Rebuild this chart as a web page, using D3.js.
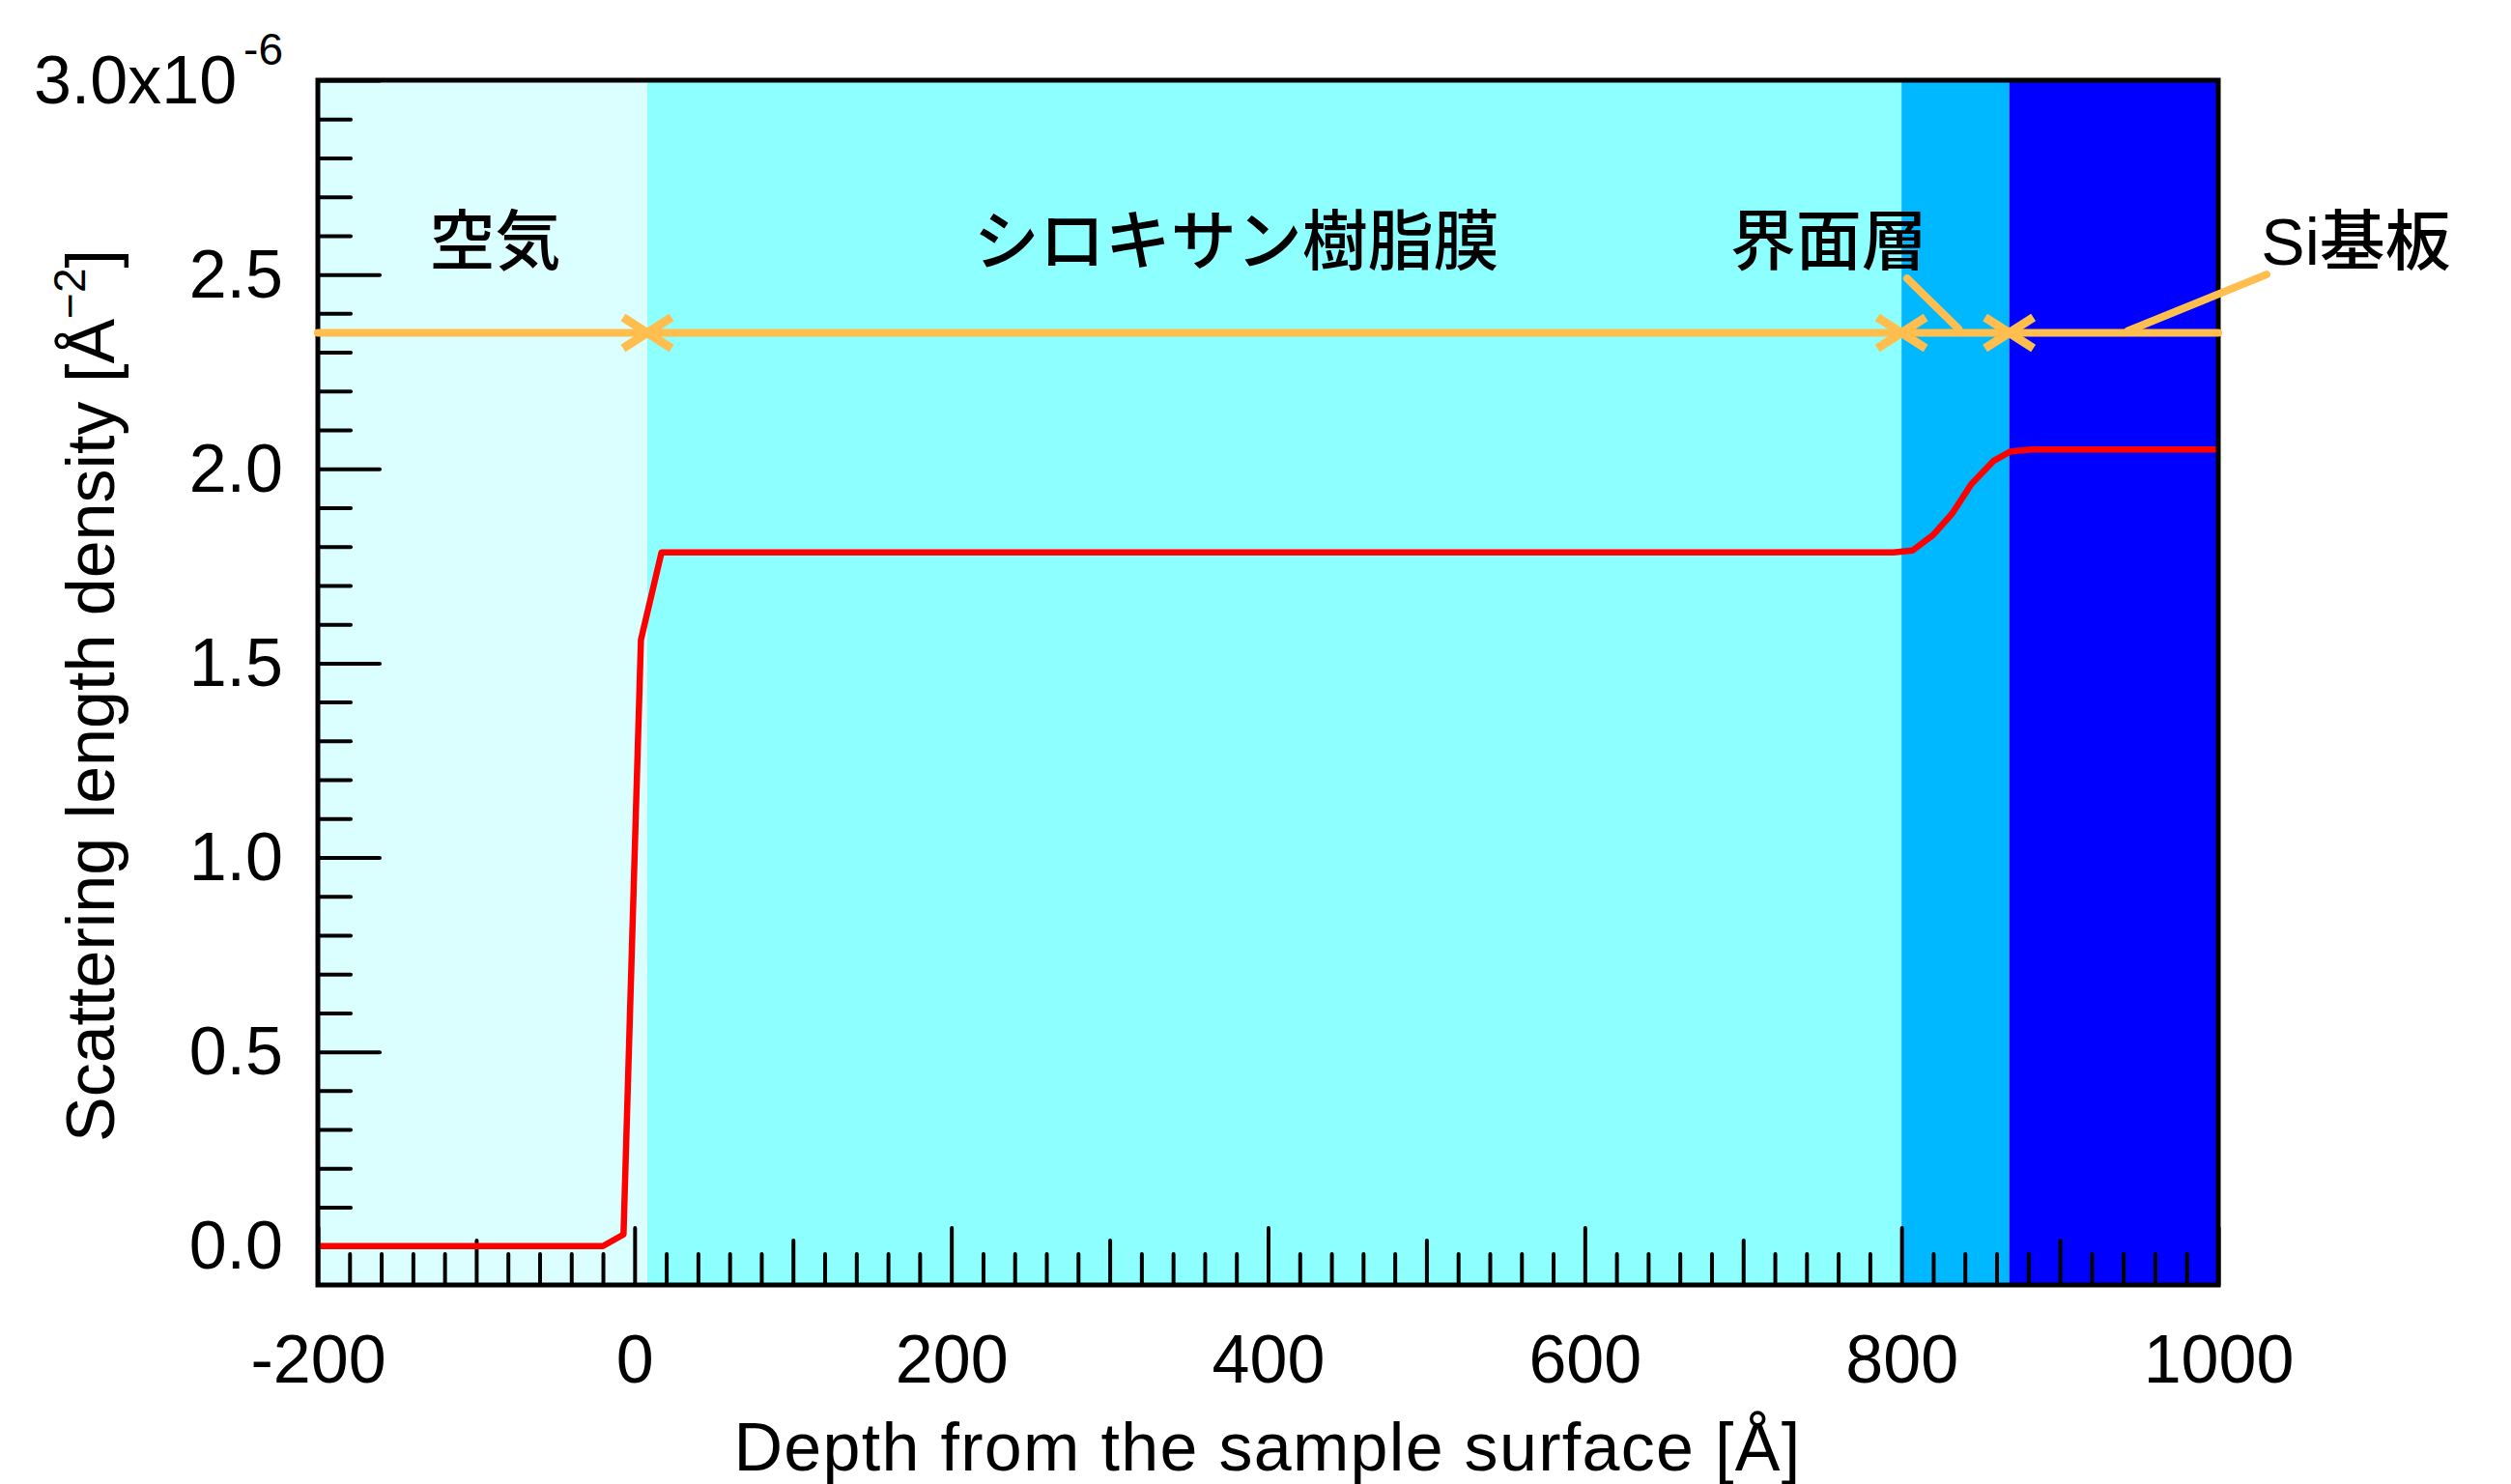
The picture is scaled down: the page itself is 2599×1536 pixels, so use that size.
<!DOCTYPE html>
<html>
<head>
<meta charset="utf-8">
<script src="https://cdn.jsdelivr.net/npm/d3@7"></script>
<style>
  body { margin: 0; background: #fff; }
  svg text { font-family: "Liberation Sans", Arial, "Noto Sans CJK JP", sans-serif; fill: #000; }
</style>
</head>
<body>
<svg id="chart"></svg>
<script>
// Layers (depth in Angstrom)
const layerNames = ['空気', 'シロキサン樹脂膜', '界面層', 'Si基板'];
const layerStart = [-200, 8, 800, 868];
const layerEnd = [8, 800, 868, 1000];
const layerColors = ['#dbffff', '#8effff', '#00b8ff', '#0000ff'];
const labelDepth = [-88, 380, 754, 1087];

// SLD profile (x1e-6 A^-2)
const depth = [-200, -20, -7, 4, 17, 795, 807, 820, 832, 844, 858, 869, 882, 1000];
const sld = [0, 0, 0.03, 1.56, 1.785, 1.785, 1.79, 1.83, 1.885, 1.96, 2.02, 2.045, 2.05, 2.05];

// Annotation arrow level and leader lines
const arrowLevel = 2.35;
const leaderInterface = [[803.5, 2.49], [836, 2.36]];
const leaderSi = [[1030.5, 2.50], [943, 2.355]];

const xMajor = [-200, 0, 200, 400, 600, 800, 1000];
const yMajor = [0.0, 0.5, 1.0, 1.5, 2.0, 2.5, 3.0];

const config = {
  width: 2599, height: 1536,
  margin: { top: 83, right: 303, bottom: 206, left: 329 }
};
const width = config.width - config.margin.left - config.margin.right;
const height = config.height - config.margin.top - config.margin.bottom;

const svg = d3.select('#chart')
  .attr('width', config.width)
  .attr('height', config.height);

const g = svg.append('g')
  .attr('transform', `translate(${config.margin.left},${config.margin.top})`);

const x = d3.scaleLinear().domain([-200, 1000]).range([0, width]);
const y = d3.scaleLinear().domain([-0.1, 3.0]).range([height, 0]);

// Background layers
g.selectAll('.layer')
  .data(layerNames)
  .enter().append('rect')
  .attr('class', 'layer')
  .attr('x', (d, i) => x(layerStart[i]))
  .attr('width', (d, i) => x(layerEnd[i]) - x(layerStart[i]))
  .attr('y', 0)
  .attr('height', height)
  .attr('fill', (d, i) => layerColors[i]);

// Ticks
const xMinor = d3.range(-200, 1001, 20).filter(v => v % 100 !== 0);
const xMid = d3.range(-100, 1000, 200);
const yMinor = d3.range(0, 31).map(v => v / 10).filter(v => !yMajor.some(m => Math.abs(m - v) < 1e-9));

function styleAxis(sel) {
  sel.select('.domain').remove();
  sel.selectAll('.tick line')
    .attr('stroke', '#000')
    .attr('stroke-width', 4)
    .attr('stroke-linecap', 'round');
}

g.append('g').attr('transform', `translate(0,${height})`)
  .call(d3.axisBottom(x).tickValues(xMinor).tickSize(-32).tickFormat(''))
  .call(styleAxis);
g.append('g').attr('transform', `translate(0,${height})`)
  .call(d3.axisBottom(x).tickValues(xMid).tickSize(-46).tickFormat(''))
  .call(styleAxis);
const xAxis = g.append('g').attr('transform', `translate(0,${height})`)
  .call(d3.axisBottom(x).tickValues(xMajor).tickSize(-59).tickPadding(51).tickFormat(d3.format('d')))
  .call(styleAxis);
xAxis.selectAll('text')
  .attr('font-size', 70)
  .text(d => d < 0 ? '-' + Math.abs(d) : d);

g.append('g')
  .call(d3.axisLeft(y).tickValues(yMinor).tickSize(-34).tickFormat(''))
  .call(styleAxis);
const yAxis = g.append('g')
  .call(d3.axisLeft(y).tickValues(yMajor).tickSize(-64).tickPadding(36).tickFormat(d3.format('.1f')))
  .call(styleAxis);
yAxis.selectAll('text')
  .attr('font-size', 70)
  .attr('dy', '0.33em');

// top label carries the exponent
yAxis.selectAll('.tick text')
  .filter(d => d === 3.0)
  .text('3.0x10')
  .append('tspan')
  .attr('font-size', 46)
  .attr('dx', 7)
  .attr('dy', -40)
  .text('-6');

// SLD profile line
const line = d3.line()
  .x((d, i) => x(depth[i]))
  .y((d, i) => y(sld[i]));

g.append('path')
  .datum(sld)
  .attr('d', line)
  .attr('fill', 'none')
  .attr('stroke', '#ff0000')
  .attr('stroke-width', 6.5)
  .attr('stroke-linejoin', 'round');

// Frame
g.append('rect')
  .attr('x', 0).attr('y', 0)
  .attr('width', width).attr('height', height)
  .attr('fill', 'none')
  .attr('stroke', '#000')
  .attr('stroke-width', 5);

// Layer arrows
const arrowColor = '#ffbe4d';
const ay = y(arrowLevel);
const ann = g.append('g');

ann.append('line')
  .attr('x1', x(-200)).attr('x2', x(1000))
  .attr('y1', ay).attr('y2', ay)
  .attr('stroke', arrowColor)
  .attr('stroke-width', 8)
  .attr('stroke-linecap', 'round');

// chevrons at each inner boundary
const boundaries = layerStart.slice(1);
boundaries.forEach(b => {
  const bx = x(b);
  [-1, 1].forEach(dir => {
    ann.append('path')
      .attr('d', `M${bx + dir * 25},${ay - 16}L${bx},${ay}L${bx + dir * 25},${ay + 16}`)
      .attr('fill', 'none')
      .attr('stroke', arrowColor)
      .attr('stroke-width', 9)
      .attr('stroke-linejoin', 'miter');
  });
});

[leaderInterface, leaderSi].forEach(pts => {
  ann.append('line')
    .attr('x1', x(pts[0][0])).attr('y1', y(pts[0][1]))
    .attr('x2', x(pts[1][0])).attr('y2', y(pts[1][1]))
    .attr('stroke', arrowColor)
    .attr('stroke-width', 8)
    .attr('stroke-linecap', 'round');
});

// Layer labels
g.selectAll('.layer-label')
  .data(layerNames)
  .enter().append('text')
  .attr('class', 'layer-label')
  .attr('x', (d, i) => x(labelDepth[i]))
  .attr('y', 274 - config.margin.top)
  .attr('text-anchor', 'middle')
  .attr('font-size', 68)
  .attr('font-weight', 500)
  .text(d => d);

// Axis titles
svg.append('text')
  .attr('x', 1312)
  .attr('y', 1522)
  .attr('text-anchor', 'middle')
  .attr('font-size', 70)
  .attr('letter-spacing', 1.3)
  .text('Depth from the sample surface [Å]');

const yTitle = svg.append('text')
  .attr('transform', 'translate(118,720) rotate(-90)')
  .attr('text-anchor', 'middle')
  .attr('font-size', 70);
yTitle.append('tspan').text('Scattering length density [Å');
yTitle.append('tspan').attr('font-size', 46).attr('dy', -30).text('−2');
yTitle.append('tspan').attr('dy', 30).text(']');
</script>
</body>
</html>
